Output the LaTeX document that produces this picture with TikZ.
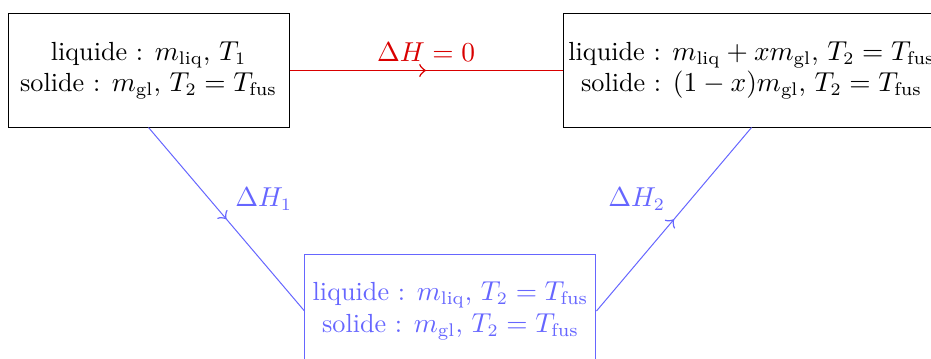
\documentclass[tikz,border=0pt]{standalone}
\usepackage{amsmath}
\usepackage{tikz}
\usetikzlibrary{decorations.markings}
\usetikzlibrary{positioning, shapes, arrows}
\tikzset{
  etat/.style={draw, align=center, minimum height=1.589cm, inner sep=2pt},
  milieu/.style={postaction={decorate},
    decoration={markings, mark=at position 0.5 with {\arrow[scale=1.5]{>}}}}}

\begin{document}
\begin{tikzpicture}[every node/.style={font=\fontsize{10.48pt}{12.6pt}\selectfont}]
  \useasboundingbox (0,0) rectangle (13.088,5.033);
    \coordinate (g) at (2.088,4.042);
    \coordinate (d) at (10.565,4.042);
    \coordinate (b) at (6.333,0.661);
  \node[etat, minimum width=3.95cm] (ini) at (g)
    {liquide : $m_{\text{liq}}$, $T_1$\\ solide : $m_{\text{gl}}$, $T_2=T_{\text{fus}}$};
  \node[etat, minimum width=5.30cm] (fin) at (d)
    {liquide : $m_{\text{liq}}+xm_{\text{gl}}$, $T_2=T_{\text{fus}}$\\ solide : $(1-x)m_{\text{gl}}$, $T_2=T_{\text{fus}}$};
  \node[etat, blue!60, minimum width=4.091cm] (int) at (b)
    {liquide : $m_{\text{liq}}$, $T_2=T_{\text{fus}}$\\ solide : $m_{\text{gl}}$, $T_2=T_{\text{fus}}$};
  % chemin direct
  \draw[red!85!black, milieu] (ini) -- node[above] {$\Delta H=0$} (fin);
  % chemin fictif
  \draw[blue!60, milieu] (ini.south) -- node[above right] {$\Delta H_1$} (int.west);
  \draw[blue!60, milieu] (int.east) -- node[above left] {$\Delta H_2$} (fin.south);
\end{tikzpicture}
\end{document}
